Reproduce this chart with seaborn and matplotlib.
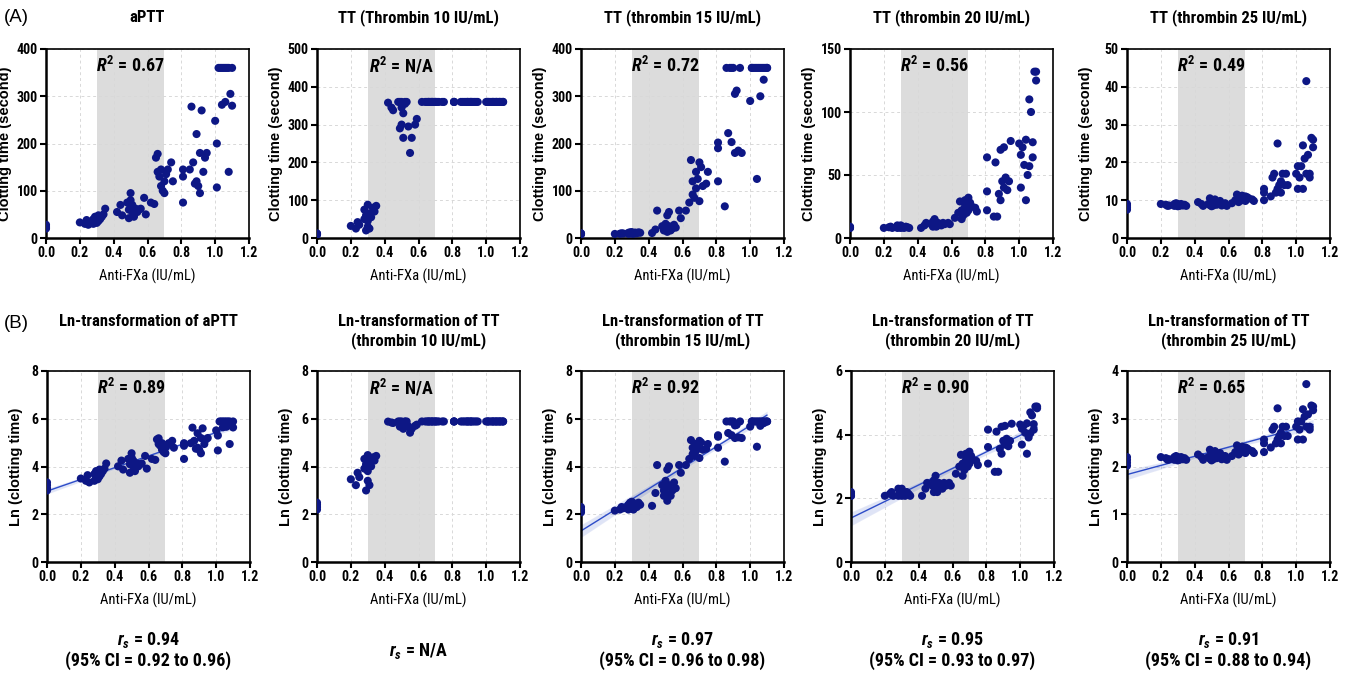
import numpy as np
import pandas as pd
import matplotlib
matplotlib.use('Agg')
import matplotlib.pyplot as plt
import matplotlib.transforms as mtransforms
import seaborn as sns

# ── DATA ─────────────────────────────────────────────────────
anti_fxa = [0.00, 0.00, 0.00, 0.00,
            0.20, 0.23, 0.24, 0.25, 0.28, 0.28, 0.29, 0.29, 0.30, 0.30, 0.30, 0.31, 0.31, 0.32, 0.33, 0.34, 0.35,
            0.42, 0.44, 0.45, 0.48, 0.49, 0.49, 0.50, 0.50, 0.50, 0.51, 0.51, 0.52, 0.52, 0.53, 0.54, 0.55, 0.56, 0.58, 0.59,
            0.62, 0.64, 0.65, 0.66, 0.66, 0.67, 0.68, 0.68, 0.69, 0.70, 0.70, 0.71, 0.72, 0.74, 0.75,
            0.81, 0.81, 0.81, 0.85, 0.86, 0.87, 0.88, 0.89, 0.89, 0.90, 0.91, 0.91, 0.92, 0.93, 0.94, 0.95,
            1.00, 1.01, 1.01, 1.02, 1.03, 1.04, 1.04, 1.05, 1.06, 1.06, 1.07, 1.08, 1.08, 1.09, 1.10, 1.10]

aptt = [22, 25, 28, 20,
        33, 30, 38, 28, 40, 30, 35, 45, 32, 38, 42, 36, 48, 40, 45, 50, 62,
        55, 70, 48, 75, 42, 60, 65, 95, 80, 55, 70, 45, 60, 62, 55, 60, 62, 85, 50,
        75, 72, 170, 178, 140, 130, 110, 145, 100, 120, 95, 135, 145, 160, 120,
        75, 130, 145, 145, 278, 160, 115, 220, 120, 110, 95, 180, 270, 140, 170, 180,
        248, 107, 200, 360, 360, 282, 360, 360, 288, 360, 360, 140, 360, 305, 360, 280]

tt10 = [10, 12, 9, 11,
        32, 25, 42, 35, 75, 50, 20, 60, 30, 45, 88, 25, 65, 55, 80, 70, 85,
        358, 345, 338, 360, 290, 360, 300, 345, 360, 265, 330, 355, 360, 360, 295, 225, 265, 300, 315,
        360, 360, 360, 360, 360, 360, 360, 360, 360, 360, 360, 360, 360, 360, 360,
        360, 360, 360, 360, 360, 360, 360, 360, 360, 360, 360, 360, 360, 360, 360, 360,
        360, 360, 360, 360, 360, 360, 360, 360, 360, 360, 360, 360, 360, 360, 360, 360]

tt15 = [8, 9, 10, 8.5,
        8.6, 9, 10, 9.5, 11, 9, 12, 10, 11, 9.5, 12.5, 10.5, 9, 11.5, 10, 12, 11,
        10.5, 18, 58, 25, 16, 20, 30, 18, 22, 48, 13, 55, 25, 16, 20, 28, 22, 58, 42,
        58, 75, 165, 92, 120, 85, 140, 105, 125, 160, 78, 150, 110, 115, 140,
        120, 190, 202, 67, 360, 222, 360, 203, 360, 360, 305, 180, 312, 185, 360, 180,
        290, 360, 360, 360, 360, 125, 360, 360, 300, 360, 360, 335, 360, 360, 360, 360]

tt20 = [8, 8.5, 9, 8,
        8, 8.5, 9, 8, 10, 8, 9, 8.5, 9, 8, 10, 8.5, 9, 8, 9, 8.5, 8,
        8, 10, 12, 11, 9, 13, 15, 10, 12, 11, 9, 12, 10, 11, 10, 12, 11, 12, 11,
        16, 20, 29, 15, 22, 18, 30, 25, 20, 32, 22, 28, 25, 24, 21,
        22, 37, 64, 17, 60, 17, 35, 70, 30, 45, 72, 40, 48, 38, 45, 77,
        75, 66, 40, 72, 58, 30, 78, 50, 110, 57, 100, 76, 64, 132, 125, 132]

tt25 = [8, 9, 8.5, 7.5,
        9, 8.8, 8.5, 8.6, 9, 8.5, 8.8, 9.2, 8.6, 8.4, 9, 8.7, 8.5, 9, 8.6, 8.8, 8.5,
        9.5, 9, 8.5, 9, 10.5, 8.7, 10, 9.5, 8.4, 9.8, 8.6, 9.4, 10.2, 8.8, 9, 9.8, 8.6, 9.2, 8.5,
        9.2, 10, 11.5, 9.5, 10.5, 11, 10, 11.2, 10.4, 11, 9.8, 10.8, 10.5, 10.2, 9.8,
        10, 12, 13, 11, 16, 17, 12, 25, 13, 14, 15, 12, 17, 14, 17, 14,
        17, 19, 13, 16, 19, 13, 24.5, 21, 41.5, 17, 22, 16, 17, 26.5, 24, 26]

titles_a = ['aPTT', 'TT (Thrombin 10 IU/mL)', 'TT (thrombin 15 IU/mL)',
            'TT (thrombin 20 IU/mL)', 'TT (thrombin 25 IU/mL)']
titles_b = ['Ln-transformation of aPTT', 'Ln-transformation of TT\n(thrombin 10 IU/mL)',
            'Ln-transformation of TT\n(thrombin 15 IU/mL)', 'Ln-transformation of TT\n(thrombin 20 IU/mL)',
            'Ln-transformation of TT\n(thrombin 25 IU/mL)']
r2_a = ['0.67', 'N/A', '0.72', '0.56', '0.49']
r2_b = ['0.89', 'N/A', '0.92', '0.90', '0.65']
rs_vals = ['0.94', 'N/A', '0.97', '0.95', '0.91']
rs_ci = ['0.92 to 0.96', None, '0.96 to 0.98', '0.93 to 0.97', '0.88 to 0.94']
ymax_a = [400, 500, 400, 150, 50]
ystep_a = [100, 100, 100, 50, 10]
ymax_b = [8, 8, 8, 6, 4]
ystep_b = [2, 2, 2, 2, 1]
has_fit = [True, False, True, True, True]

series = [aptt, tt10, tt15, tt20, tt25]

# ── STYLE ────────────────────────────────────────────────────
sns.set_style('white')
NARROW = ['Roboto Condensed', 'Liberation Sans', 'DejaVu Sans']
plt.rcParams['font.family'] = NARROW
plt.rcParams['font.weight'] = 'bold'
plt.rcParams['text.color'] = 'black'
plt.rcParams['axes.labelcolor'] = 'black'
plt.rcParams['xtick.color'] = 'black'
plt.rcParams['ytick.color'] = 'black'
plt.rcParams['mathtext.fontset'] = 'custom'
plt.rcParams['mathtext.it'] = 'Roboto Condensed:italic:bold'
plt.rcParams['mathtext.rm'] = 'Roboto Condensed:bold'

NAVY = '#0d1785'
BAND = '#dcdcdc'
LINE = '#2d4cc8'

W, H = 1347, 675
fig = plt.figure(figsize=(W / 100, H / 100), dpi=100)

lefts_a = [46, 317, 581, 850, 1127]
lefts_b = [47, 317, 581, 851, 1127]
width = 203


def style_axis(ax, ymax, ystep):
    ax.axvspan(0.3, 0.7, color=BAND, zorder=0, lw=0)
    ax.set_xlim(0, 1.2)
    ax.set_ylim(0, ymax)
    ax.set_xticks(np.arange(0, 1.21, 0.2))
    ax.set_xticklabels([f'{v:.1f}' for v in np.arange(0, 1.21, 0.2)])
    ax.set_yticks(np.arange(0, ymax + 0.001, ystep))
    ax.grid(True, ls=(0, (3, 3)), color='#d8d8d8', lw=0.7)
    ax.set_axisbelow(True)
    for s in ax.spines.values():
        s.set_color('black')
        s.set_linewidth(1.2)
        s.set_visible(True)
    ax.spines['left'].set_linewidth(1.8)
    ax.spines['bottom'].set_linewidth(1.8)
    ax.tick_params(axis='both', direction='out', length=4, width=1.5,
                   labelsize=10, left=True, bottom=True, pad=2)


def labels(ax, ylabel, ypos):
    ax.set_xlabel('Anti-FXa (IU/mL)', fontsize=10.5, labelpad=6)
    ax.set_ylabel(ylabel, fontsize=10.5, family='Liberation Sans', fontweight='bold')
    ax.yaxis.set_label_coords(ypos, 0.5)


def r2_text(ax, val):
    trans = mtransforms.blended_transform_factory(ax.transData, ax.transAxes)
    ax.text(0.5, 0.91, r'$R^2$ = ' + val, transform=trans, ha='center', va='center',
            fontsize=13, fontweight='bold')


for i in range(5):
    df = pd.DataFrame({'x': anti_fxa, 'y': series[i]})
    df['ln'] = np.log(df['y'])

    # row A: raw clotting times
    ax = fig.add_axes([lefts_a[i] / W, 1 - 238 / H, width / W, 189 / H])
    style_axis(ax, ymax_a[i], ystep_a[i])
    sns.scatterplot(data=df, x='x', y='y', ax=ax, color=NAVY, s=34,
                    edgecolor='none', zorder=3)
    labels(ax, 'Clotting time (second)', -34 / width)
    r2_text(ax, r2_a[i])
    cx = (lefts_a[i] + width / 2) / W
    fig.text(cx, 1 - 18 / H, titles_a[i], ha='center', va='center', fontsize=12)

    # row B: ln-transformed clotting times
    ax = fig.add_axes([lefts_b[i] / W, 1 - 562 / H, width / W, 191 / H])
    style_axis(ax, ymax_b[i], ystep_b[i])
    if has_fit[i]:
        sns.regplot(data=df, x='x', y='ln', ax=ax, scatter=False, ci=95,
                    color=LINE, line_kws={'lw': 1.0, 'zorder': 2})
    sns.scatterplot(data=df, x='x', y='ln', ax=ax, color=NAVY, s=34,
                    edgecolor='none', zorder=3)
    labels(ax, 'Ln (clotting time)', -24 / width)
    r2_text(ax, r2_b[i])
    cx = (lefts_b[i] + width / 2) / W
    fig.text(cx, 1 - 314 / H, titles_b[i], ha='center', va='top', fontsize=12,
             linespacing=1.2)

    # Spearman footnote
    if rs_ci[i] is None:
        fig.text(cx, 1 - 651 / H, r'$r_s$ = ' + rs_vals[i], ha='center', va='center',
                 fontsize=13)
    else:
        fig.text(cx, 1 - 640 / H, r'$r_s$ = ' + rs_vals[i], ha='center', va='center',
                 fontsize=13)
        fig.text(cx, 1 - 661 / H, f'(95% CI = {rs_ci[i]})', ha='center', va='center',
                 fontsize=13)

fig.text(4 / W, 1 - 18 / H, '(A)', ha='left', va='center', fontsize=13.5,
         fontweight='normal', family='Liberation Sans')
fig.text(4 / W, 1 - 324 / H, '(B)', ha='left', va='center', fontsize=13.5,
         fontweight='normal', family='Liberation Sans')

fig.savefig('out.png', dpi=100)
